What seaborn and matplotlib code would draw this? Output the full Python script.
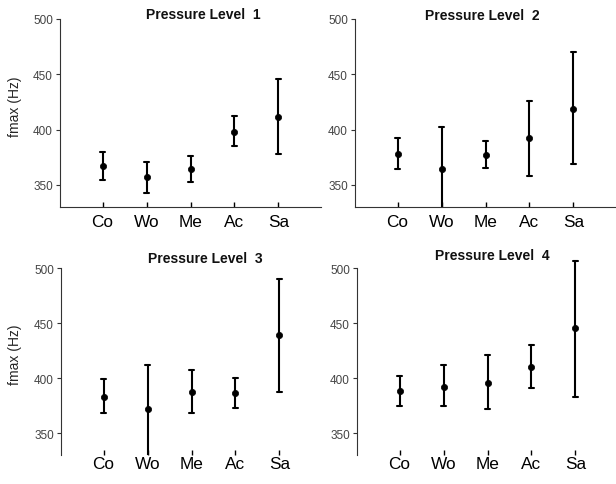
import pandas as pd
import matplotlib.pyplot as plt
import seaborn as sns

# categories and per-level values (mean, lower end, upper end of the bar)
cats = ['Co', 'Wo', 'Me', 'Ac', 'Sa']
levels = ['Pressure Level  1', 'Pressure Level  2', 'Pressure Level  3', 'Pressure Level  4']

mean1 = [367, 357, 364, 398, 411]
low1 = [354, 343, 353, 385, 378]
high1 = [380, 371, 376, 412, 446]

mean2 = [378, 364, 377, 392, 419]
low2 = [364, 326, 365, 358, 369]
high2 = [392, 402, 390, 426, 470]

mean3 = [383, 372, 387, 386, 439]
low3 = [368, 326, 368, 373, 387]
high3 = [399, 412, 407, 400, 490]

mean4 = [388, 392, 396, 410, 446]
low4 = [375, 375, 372, 391, 383]
high4 = [402, 412, 421, 430, 507]

y_ticks = [350, 400, 450, 500]

panels = [(mean1, low1, high1), (mean2, low2, high2),
          (mean3, low3, high3), (mean4, low4, high4)]

# long table: three values per bar, median = mean, min/max = bar ends
rows = []
for lvl, (m, lo, hi) in zip(levels, panels):
    for c, a, b, d in zip(cats, m, lo, hi):
        for v in (a, b, d):
            rows.append({'level': lvl, 'cat': c, 'value': v})
df = pd.DataFrame(rows)

sns.set_style('ticks')
plt.rcParams['font.family'] = ['Liberation Sans', 'DejaVu Sans']

W, H = 616, 485
fig = plt.figure(figsize=(W / 100, H / 100), dpi=100)

# (left px, bottom px, top px) of each axes box
boxes = [(60, 208, 8.9), (355, 208, 8.9), (61, 456, 258.3), (357, 456, 258.3)]
title_pos = [(203, 15), (482, 16), (205, 259), (492, 256)]

for i, lvl in enumerate(levels):
    l, b, t = boxes[i]
    ax = fig.add_axes([l / W, (H - b) / H, 261 / W, (b - t) / H])
    sub = df[df['level'] == lvl]
    sns.pointplot(data=sub, x='cat', y='value', order=cats, ax=ax,
                  estimator='median', errorbar=lambda x: (min(x), max(x)),
                  color='black', linestyle='none', markers='o',
                  markersize=4.5, markeredgewidth=0.5, capsize=0.1,
                  err_kws={'linewidth': 1.5})
    ax.set_xlim(-0.97, 4.97)
    ax.set_ylim(330, 510)
    ax.set_yticks(y_ticks)
    ax.set_xlabel('')
    ax.set_ylabel('')
    for s in ['top', 'right']:
        ax.spines[s].set_visible(False)
    ax.spines['left'].set_bounds(330, 500)
    ax.spines['left'].set_color('#333333')
    ax.spines['bottom'].set_color('#333333')
    if i >= 2:
        ax.spines['bottom'].set_visible(False)
    ax.tick_params(axis='y', direction='out', length=3, width=0.8, left=True,
                   labelsize=8.5, labelcolor='#444444', color='#333333', pad=2)
    ax.tick_params(axis='x', direction='in', length=3.5, width=1.0, bottom=True,
                   labelsize=12.4, labelcolor='black', color='black',
                   pad=5 if i < 2 else 1)
    tx, ty = title_pos[i]
    fig.text(tx / W, 1 - ty / H, lvl, ha='center', va='center',
             fontsize=10, fontweight='bold', color='#111111')

fig.text(15 / W, 1 - 107 / H, 'fmax (Hz)', rotation=90, ha='center', va='center', fontsize=10)
fig.text(15 / W, 1 - 355 / H, 'fmax (Hz)', rotation=90, ha='center', va='center', fontsize=10)

fig.savefig('out.png', dpi=100)
